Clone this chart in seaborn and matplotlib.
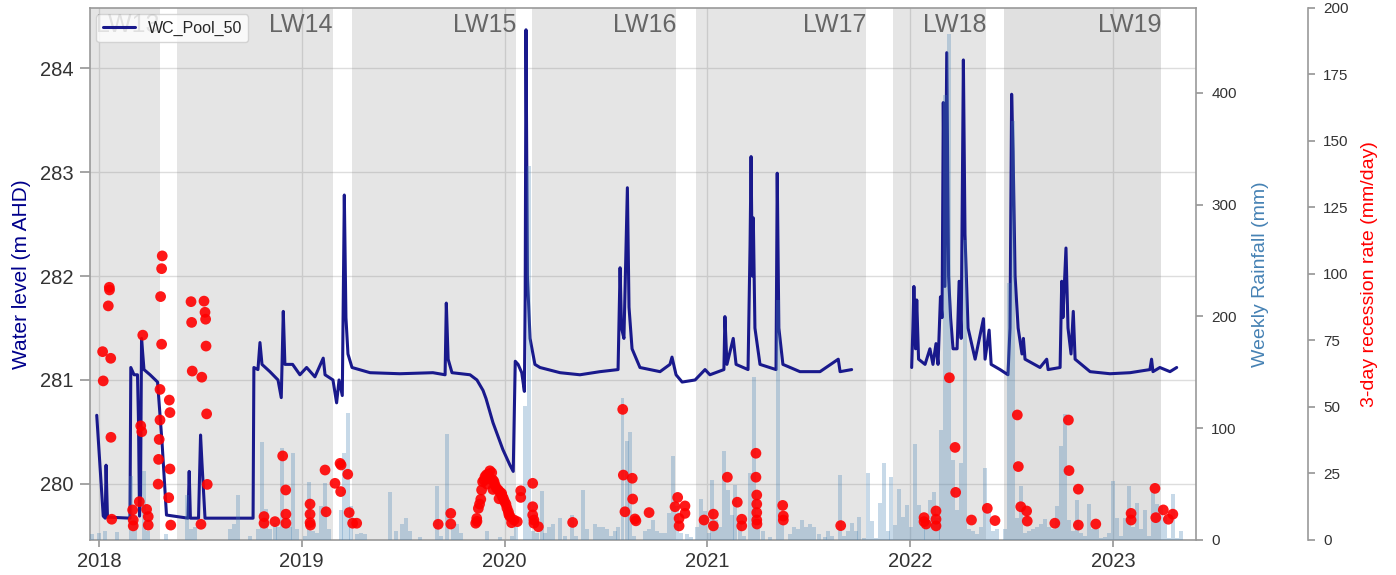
import numpy as np
import pandas as pd
import matplotlib
matplotlib.use("Agg")
import matplotlib.pyplot as plt
import matplotlib.transforms as mtransforms
import seaborn as sns

# --- data (decimal years) ---
# water level at WC_Pool_50 (m AHD); NaN marks the logger gap
wl_year = [2017.989, 2018.021, 2018.031, 2018.035, 2018.042, 2018.153, 2018.157, 2018.173, 2018.190,
           2018.195, 2018.200, 2018.205, 2018.210, 2018.222, 2018.252, 2018.289, 2018.311, 2018.333,
           2018.439, 2018.445, 2018.451, 2018.491, 2018.501, 2018.508, 2018.523, 2018.760, 2018.764,
           2018.784, 2018.794, 2018.804, 2018.843, 2018.883, 2018.899, 2018.909, 2018.917, 2018.955,
           2018.991, 2019.024, 2019.065, 2019.106, 2019.115, 2019.154, 2019.172, 2019.184, 2019.200,
           2019.210, 2019.218, 2019.228, 2019.248, 2019.337, 2019.484, 2019.647, 2019.707, 2019.713,
           2019.722, 2019.741, 2019.830, 2019.864, 2019.894, 2019.909, 2019.943, 2019.992, 2020.027,
           2020.043, 2020.053, 2020.067, 2020.085, 2020.098, 2020.102, 2020.106, 2020.113, 2020.126,
           2020.150, 2020.175, 2020.274, 2020.372, 2020.471, 2020.560, 2020.570, 2020.577, 2020.589,
           2020.606, 2020.614, 2020.629, 2020.668, 2020.767, 2020.816, 2020.826, 2020.846, 2020.876,
           2020.940, 2020.989, 2021.013, 2021.082, 2021.087, 2021.097, 2021.128, 2021.142, 2021.201,
           2021.211, 2021.216, 2021.222, 2021.227, 2021.235, 2021.260, 2021.339, 2021.345, 2021.353,
           2021.373, 2021.457, 2021.556, 2021.646, 2021.655, 2021.712, 2021.860,
           2022.008, 2022.014, 2022.019, 2022.027, 2022.033, 2022.042, 2022.074, 2022.098, 2022.113,
           2022.128, 2022.138, 2022.150, 2022.158, 2022.164, 2022.172, 2022.181, 2022.190, 2022.200,
           2022.212, 2022.232, 2022.242, 2022.252, 2022.263, 2022.271, 2022.286, 2022.321, 2022.362,
           2022.370, 2022.390, 2022.400, 2022.444, 2022.483, 2022.493, 2022.501, 2022.508, 2022.518,
           2022.533, 2022.552, 2022.559, 2022.567, 2022.641, 2022.674, 2022.681, 2022.740, 2022.748,
           2022.754, 2022.769, 2022.779, 2022.794, 2022.805, 2022.814, 2022.888, 2022.986, 2023.085,
           2023.183, 2023.191, 2023.198, 2023.232, 2023.282, 2023.315]
wl_level = [280.66, 279.69, 279.67, 280.18, 279.68, 279.67, 281.12, 281.05, 281.05,
            280.60, 279.69, 279.90, 281.40, 281.10, 281.05, 280.98, 280.40, 279.70,
            279.67, 280.12, 279.67, 279.67, 280.47, 280.20, 279.67, 279.67, 281.12,
            281.10, 281.36, 281.15, 281.08, 281.00, 280.83, 281.66, 281.15, 281.15,
            281.05, 281.12, 281.03, 281.21, 281.05, 281.00, 280.78, 281.00, 280.85,
            282.78, 281.60, 281.25, 281.12, 281.07, 281.06, 281.07, 281.05, 281.74,
            281.20, 281.07, 281.05, 281.00, 280.90, 280.82, 280.59, 280.33, 280.18,
            280.12, 281.18, 281.15, 281.07, 280.89, 281.80, 284.37, 282.00, 281.40,
            281.15, 281.12, 281.07, 281.05, 281.08, 281.10, 282.08, 281.50, 281.40,
            282.85, 281.70, 281.30, 281.12, 281.08, 281.15, 281.22, 281.05, 280.98,
            281.00, 281.10, 281.05, 281.10, 281.61, 281.15, 281.40, 281.15, 281.10,
            282.30, 283.15, 282.00, 282.56, 281.50, 281.15, 281.10, 282.99, 281.50,
            281.15, 281.08, 281.08, 281.20, 281.08, 281.10, np.nan,
            281.12, 281.50, 281.90, 281.30, 281.77, 281.20, 281.15, 281.30, 281.15,
            281.35, 281.15, 281.80, 281.60, 283.67, 281.90, 284.15, 282.00, 281.60,
            281.30, 281.30, 281.95, 281.40, 284.08, 282.40, 281.50, 281.20, 281.59,
            281.20, 281.48, 281.15, 281.10, 281.05, 281.50, 283.75, 283.20, 282.00,
            281.50, 281.25, 281.40, 281.20, 281.12, 281.20, 281.10, 281.12, 281.95,
            281.60, 282.27, 281.50, 281.25, 281.66, 281.20, 281.08, 281.06, 281.07,
            281.10, 281.20, 281.08, 281.12, 281.08, 281.12]

# weekly rainfall (mm)
rain_year = [2017.965, 2018.000, 2018.030, 2018.089, 2018.158, 2018.178, 2018.222, 2018.242, 2018.330,
             2018.434, 2018.454, 2018.473, 2018.646, 2018.666, 2018.686, 2018.745, 2018.784, 2018.804,
             2018.824, 2018.843, 2018.867, 2018.883, 2018.903, 2018.922, 2018.942, 2018.957, 2018.977,
             2019.016, 2019.036, 2019.055, 2019.075, 2019.095, 2019.115, 2019.134, 2019.194, 2019.208,
             2019.228, 2019.243, 2019.272, 2019.292, 2019.312, 2019.435, 2019.465, 2019.494, 2019.514,
             2019.534, 2019.583, 2019.667, 2019.687, 2019.716, 2019.746, 2019.766, 2019.785, 2019.914,
             2019.978, 2020.037, 2020.057, 2020.101, 2020.121, 2020.140, 2020.160, 2020.185, 2020.200,
             2020.219, 2020.239, 2020.274, 2020.298, 2020.333, 2020.353, 2020.387, 2020.407, 2020.446,
             2020.466, 2020.486, 2020.505, 2020.525, 2020.545, 2020.560, 2020.582, 2020.603, 2020.619,
             2020.639, 2020.693, 2020.713, 2020.732, 2020.752, 2020.772, 2020.792, 2020.811, 2020.831,
             2020.851, 2020.870, 2020.900, 2020.920, 2020.949, 2020.969, 2020.989, 2021.009, 2021.023,
             2021.043, 2021.063, 2021.083, 2021.102, 2021.122, 2021.137, 2021.161, 2021.181, 2021.211,
             2021.230, 2021.250, 2021.275, 2021.309, 2021.349, 2021.369, 2021.408, 2021.428, 2021.447,
             2021.467, 2021.487, 2021.507, 2021.526, 2021.551, 2021.581, 2021.595, 2021.615, 2021.655,
             2021.674, 2021.694, 2021.714, 2021.734, 2021.748, 2021.773, 2021.793, 2021.812, 2021.832,
             2021.852, 2021.872, 2021.891, 2021.906, 2021.926, 2021.946, 2021.965, 2021.985, 2022.005,
             2022.025, 2022.044, 2022.064, 2022.079, 2022.099, 2022.118, 2022.138, 2022.153, 2022.172,
             2022.192, 2022.212, 2022.232, 2022.251, 2022.271, 2022.291, 2022.311, 2022.330, 2022.350,
             2022.370, 2022.389, 2022.409, 2022.429, 2022.468, 2022.488, 2022.508, 2022.528, 2022.547,
             2022.567, 2022.587, 2022.606, 2022.626, 2022.646, 2022.666, 2022.685, 2022.705, 2022.725,
             2022.745, 2022.764, 2022.784, 2022.804, 2022.824, 2022.843, 2022.863, 2022.883, 2022.902,
             2022.922, 2022.942, 2022.962, 2022.981, 2023.001, 2023.021, 2023.040, 2023.060, 2023.080,
             2023.100, 2023.119, 2023.139, 2023.159, 2023.179, 2023.198, 2023.218, 2023.238, 2023.258,
             2023.277, 2023.297, 2023.317, 2023.336]
rain_mm = [5, 6, 8, 7, 57, 22, 62, 8, 5,
           40, 10, 12, 10, 14, 40, 4, 10, 88,
           28, 10, 15, 12, 82, 12, 12, 78, 10,
           4, 52, 8, 6, 30, 51, 10, 27, 78,
           114, 30, 5, 6, 5, 43, 8, 14, 20,
           8, 3, 48, 4, 95, 12, 14, 6, 8,
           3, 4, 12, 120, 335, 8, 6, 44, 6,
           12, 14, 20, 4, 22, 4, 45, 10, 14,
           12, 12, 10, 4, 8, 12, 127, 89, 97,
           4, 8, 10, 18, 8, 6, 6, 24, 75,
           30, 6, 5, 3, 12, 37, 26, 6, 54,
           18, 12, 80, 45, 22, 49, 17, 4, 60,
           146, 10, 8, 3, 215, 14, 5, 12, 10,
           18, 12, 14, 12, 5, 3, 8, 4, 58,
           4, 8, 15, 8, 21, 2, 60, 17, 2,
           33, 69, 8, 56, 13, 46, 21, 31, 12,
           86, 31, 12, 20, 36, 43, 20, 98, 398,
           453, 72, 27, 69, 268, 10, 8, 5, 12,
           64, 25, 8, 10, 10, 230, 375, 20, 48,
           6, 8, 10, 12, 14, 19, 12, 10, 30,
           84, 113, 18, 8, 36, 6, 4, 32, 10,
           10, 2, 3, 6, 53, 20, 4, 20, 48,
           12, 33, 10, 27, 4, 45, 32, 30, 21,
           2, 41, 2, 8]

# 3-day recession rate (mm/day)
rec_year = [2018.018, 2018.021, 2018.051, 2018.052, 2018.046, 2018.058, 2018.059, 2018.063,
            2018.166, 2018.169, 2018.169, 2018.199, 2018.206, 2018.211, 2018.216, 2018.235, 2018.243, 2018.243,
            2018.304, 2018.309, 2018.312, 2018.309, 2018.301, 2018.301, 2018.297, 2018.294, 2018.292,
            2018.347, 2018.350, 2018.350, 2018.344, 2018.354,
            2018.454, 2018.457, 2018.460, 2018.518, 2018.523, 2018.526, 2018.528, 2018.507, 2018.531,
            2018.534, 2018.503,
            2018.814, 2018.814, 2018.868, 2018.906, 2018.921, 2018.922, 2018.922,
            2019.041, 2019.041, 2019.041, 2019.043, 2019.120, 2019.115, 2019.164, 2019.189, 2019.194,
            2019.192, 2019.227, 2019.234, 2019.251, 2019.271,
            2019.673, 2019.735, 2019.735,
            2019.858, 2019.863, 2019.871, 2019.883, 2019.887, 2019.892, 2019.904, 2019.920, 2019.937,
            2019.942, 2019.953, 2019.969, 2019.986, 2019.994, 2020.007, 2020.019, 2020.027, 2020.035,
            2020.063, 2020.080, 2020.080, 2019.864, 2019.877, 2019.899, 2019.911, 2019.928, 2019.926,
            2019.948, 2019.960, 2019.978, 2019.988, 2020.000, 2020.012, 2020.022, 2020.047, 2019.914,
            2019.943, 2019.973,
            2020.139, 2020.139, 2020.139, 2020.145, 2020.145, 2020.167,
            2020.336, 2020.583, 2020.586, 2020.594, 2020.630, 2020.632, 2020.643, 2020.648, 2020.713,
            2020.854, 2020.841, 2020.861, 2020.861, 2020.890, 2020.890,
            2020.984, 2021.030, 2021.030, 2021.099, 2021.148, 2021.170, 2021.170,
            2021.240, 2021.240, 2021.244, 2021.244, 2021.244, 2021.244, 2021.245,
            2021.372, 2021.375, 2021.375, 2021.658,
            2022.069, 2022.069, 2022.079, 2022.128, 2022.128, 2022.128,
            2022.194, 2022.222, 2022.225, 2022.303, 2022.381, 2022.419,
            2022.529, 2022.534, 2022.546, 2022.575, 2022.578, 2022.714,
            2022.781, 2022.784, 2022.830, 2022.830, 2022.916,
            2023.090, 2023.090, 2023.208, 2023.212, 2023.249, 2023.274, 2023.296]
rec_rate = [70.8, 59.8, 95.0, 94.0, 88.0, 68.3, 38.6, 7.8,
            11.3, 7.5, 5.3, 14.4, 42.9, 40.7, 77.0, 11.5, 8.8, 5.6,
            91.5, 73.6, 106.8, 102.0, 56.6, 45.1, 37.8, 30.3, 21.0,
            52.6, 47.9, 26.7, 15.9, 5.6,
            89.6, 81.8, 63.5, 89.8, 85.6, 83.0, 72.9, 61.2, 47.4,
            20.9, 5.9,
            8.8, 6.3, 6.9, 31.6, 18.8, 9.7, 6.3,
            13.5, 9.7, 6.5, 5.6, 10.6, 26.3, 21.3, 28.8, 28.2,
            18.2, 24.7, 10.3, 6.3, 6.3,
            5.9, 10.0, 6.0,
            6.3, 8.1, 11.9, 15.3, 18.8, 21.9, 23.8, 24.8, 25.3,
            22.6, 20.7, 18.8, 17.5, 15.7, 13.5, 10.6, 8.8, 6.5,
            6.9, 18.5, 16.0, 7.0, 13.5, 22.5, 24.5, 26.0, 23.0,
            22.0, 19.5, 18.0, 16.5, 14.5, 12.0, 9.5, 7.5, 21.0,
            19.0, 15.5,
            21.3, 12.5, 9.4, 6.3, 7.5, 5.0,
            6.6, 49.1, 24.4, 10.6, 23.2, 15.4, 7.9, 7.2, 10.3,
            16.0, 12.5, 8.1, 5.3, 12.8, 10.0,
            7.5, 9.7, 5.3, 23.6, 14.2, 7.8, 5.3,
            32.6, 23.6, 16.9, 13.5, 10.3, 7.5, 6.0,
            13.0, 9.0, 7.5, 5.4,
            8.4, 6.9, 6.0, 10.9, 7.8, 5.3,
            61.0, 34.8, 17.9, 7.5, 11.9, 7.3,
            47.0, 27.6, 12.5, 10.9, 7.1, 6.3,
            45.1, 26.1, 19.1, 5.6, 6.0,
            10.0, 7.5, 19.4, 8.4, 11.3, 7.8, 9.7]

# longwall panel periods
lw_names = ["LW13", "LW14", "LW15", "LW16", "LW17", "LW18", "LW19"]
lw_start = [2017.800, 2018.385, 2019.248, 2020.136, 2020.944, 2021.916, 2022.463]
lw_end = [2018.301, 2019.154, 2020.057, 2020.846, 2021.783, 2022.375, 2023.238]

year_ticks = [2018, 2019, 2020, 2021, 2022, 2023]


def to_date(years):
    years = np.asarray(years, dtype=float)
    return pd.Timestamp("2018-01-01") + pd.to_timedelta((years - 2018) * 365.25, unit="D")


sns.set_theme(style="whitegrid")
plt.rcParams["font.family"] = ["Liberation Sans", "DejaVu Sans"]

fig = plt.figure(figsize=(13.96, 5.75), dpi=100)
ax1 = fig.add_axes([0.0645, 0.0609, 0.7922, 0.9252])
ax2 = ax1.twinx()
ax3 = ax1.twinx()

# shaded panel periods + labels
trans = mtransforms.blended_transform_factory(ax1.transData, ax1.transAxes)
for name, s, e in zip(lw_names, lw_start, lw_end):
    alpha = 0.24 if name == "LW19" else 0.2
    ax1.axvspan(to_date([s])[0], to_date([e])[0], color="grey", alpha=alpha, lw=0, zorder=1)
    ax1.text(to_date([e])[0], 0.99, name, transform=trans, ha="right", va="top",
             fontsize=18, color="#666666", zorder=2)

# water level
wl = pd.DataFrame({"date": to_date(wl_year), "level": wl_level})
wl["seg"] = wl["level"].isna().cumsum()
wl = wl.dropna()
first = True
for _, part in wl.groupby("seg"):
    sns.lineplot(data=part, x="date", y="level", ax=ax1, color="#19198c", lw=2.2,
                 label="WC_Pool_50" if first else None, legend=first, zorder=3)
    first = False

ax1.set_ylim(279.46, 284.58)
ax1.set_xlim(to_date([2017.956])[0], to_date([2023.410])[0])
ax1.set_xticks(to_date(year_ticks))
ax1.set_xticklabels([str(y) for y in year_ticks])
ax1.set_yticks([280, 281, 282, 283, 284])
ax1.set_xlabel("")
ax1.set_ylabel("Water level (m AHD)", color="#00008b", fontsize=15, labelpad=6)
ax1.tick_params(axis="both", labelsize=14.5, color="0.6", colors="0.2")
ax1.tick_params(axis="y", left=True, length=7, pad=5)
ax1.tick_params(axis="x", bottom=True, length=5, pad=4)
ax1.grid(True, color="#dddddd", lw=1.0)
ax1.set_axisbelow(True)
for sp in ax1.spines.values():
    sp.set_color("0.6")
    sp.set_linewidth(1.2)
leg = ax1.legend(loc="upper left", fontsize=11.5, framealpha=0.8, borderaxespad=0.4,
                 handlelength=2.0)
leg.get_frame().set_edgecolor("0.8")

# weekly rainfall bars
ax2.bar(to_date(rain_year), rain_mm, width=6.8, color="steelblue", alpha=0.3, lw=0, zorder=2)
ax2.set_ylim(0, 476)
ax2.set_yticks([0, 100, 200, 300, 400])
ax2.set_ylabel("Weekly Rainfall (mm)", color="steelblue", fontsize=14, labelpad=11)
ax2.grid(False)
ax2.tick_params(axis="y", labelsize=11, right=True, length=5, pad=6, color="0.6", colors="0.2")
for sp in ax2.spines.values():
    sp.set_visible(False)

# recession rates
rec = pd.DataFrame({"date": to_date(rec_year), "rate": rec_rate})
sns.scatterplot(data=rec, x="date", y="rate", ax=ax3, color="red", s=60, alpha=0.9,
                edgecolor="none", zorder=4)
ax3.set_ylim(0, 200)
ax3.set_yticks(np.arange(0, 201, 25))
ax3.set_ylabel("3-day recession rate (mm/day)", color="red", fontsize=14, labelpad=9)
ax3.set_xlabel("")
ax3.grid(False)
ax3.spines["right"].set_position(("axes", 1.1013))
for k, sp in ax3.spines.items():
    sp.set_visible(k == "right")
ax3.spines["right"].set_color("0.6")
ax3.spines["right"].set_linewidth(1.2)
ax3.tick_params(axis="y", labelsize=11, right=True, length=5, pad=6, color="0.6", colors="0.2")

fig.savefig("out.png", dpi=100)
